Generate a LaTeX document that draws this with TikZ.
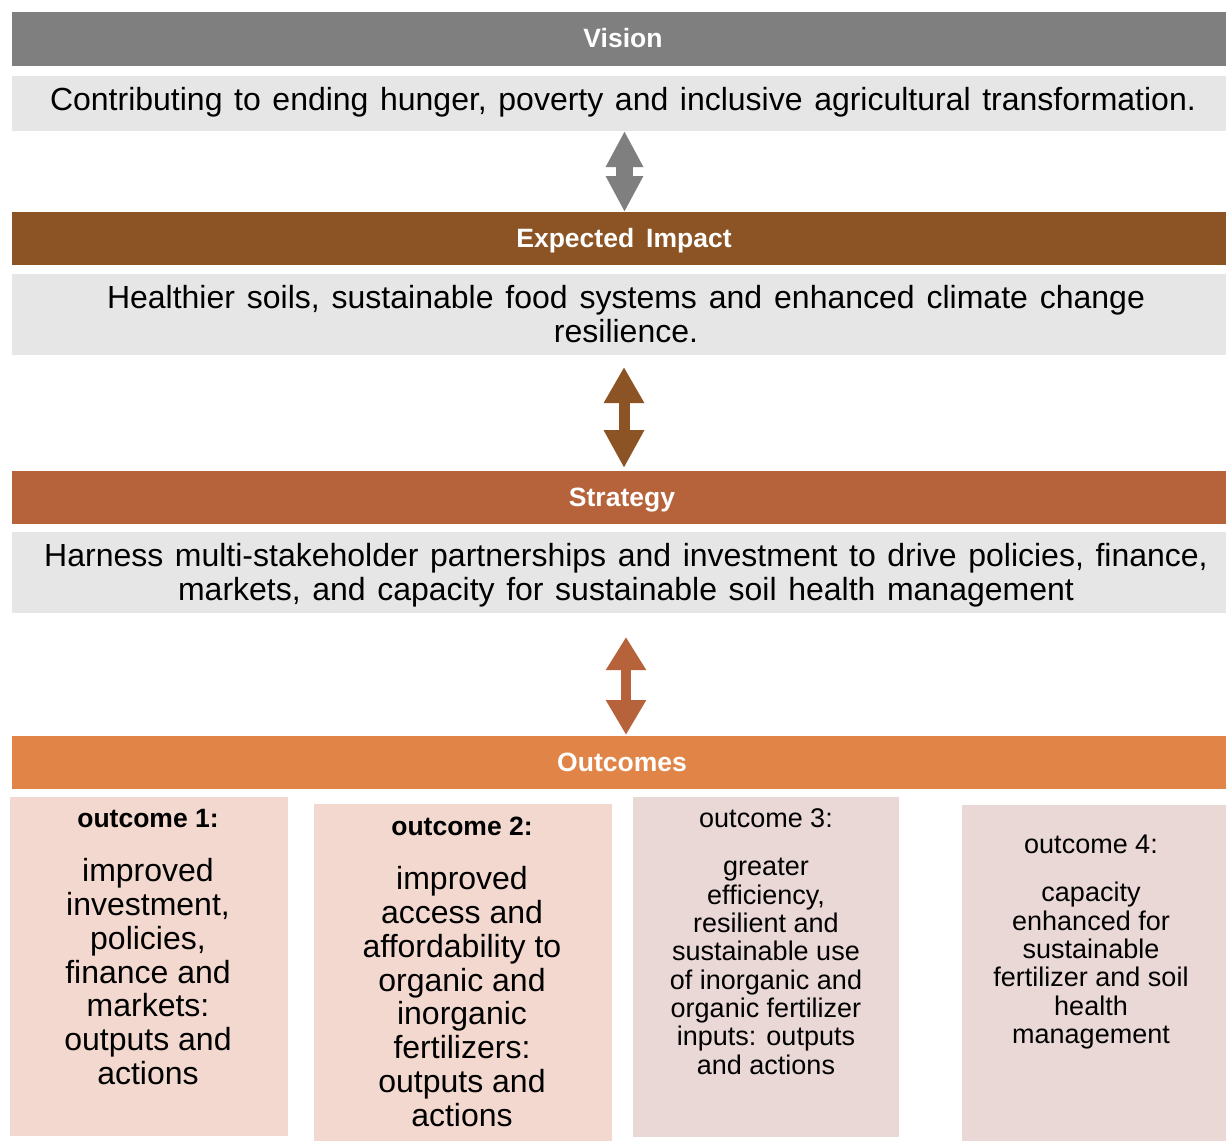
\documentclass[tikz,border=0pt]{standalone}
\usepackage{fontspec}
\setmainfont{Liberation Sans}
\usetikzlibrary{arrows.meta}
\definecolor{visgray}{RGB}{127,127,127}
\definecolor{lgray}{RGB}{231,230,230}
\definecolor{impbrown}{RGB}{140,84,36}
\definecolor{strbrown}{RGB}{182,98,58}
\definecolor{outorange}{RGB}{224,132,72}
\definecolor{pinka}{RGB}{242,216,206}
\definecolor{pinkb}{RGB}{234,216,214}
\newcommand\myspacetitle{\spaceskip 12pt\relax}
\newcommand\myspacemain{\spaceskip 11.6pt\relax}
\newcommand\myspaceimp{\spaceskip 11.9pt\relax}
\begin{document}
\begin{tikzpicture}[x=1pt,y=-1pt,
  box/.style={draw=none, inner sep=0, outer sep=0, anchor=north west, rectangle},
  titletext/.style={text=white, inner sep=0, anchor=base, font={\fontsize{26.5}{30}\selectfont\bfseries\myspacetitle}},
  maintext/.style={inner sep=0, align=center, anchor=north, font={\fontsize{32}{34}\selectfont\myspacemain}},
  onetext/.style={inner sep=0, anchor=base, font={\fontsize{32}{34}\selectfont\myspacemain}},
  otitle/.style={inner sep=0, anchor=base, font={\fontsize{26.5}{30}\selectfont\bfseries}},
  otitlereg/.style={inner sep=0, anchor=base, font={\fontsize{27}{30}\selectfont}},
  obodybig/.style={inner sep=0, align=center, anchor=north, font={\fontsize{32}{33.8}\selectfont}},
  obodysmall/.style={inner sep=0, align=center, anchor=north, font={\fontsize{27}{28.3}\selectfont}}
]
\fill[white] (0,0) rectangle (1226,1141);
\useasboundingbox (0,0) rectangle (1226,1141);

% bars and boxes
\node[box, fill=visgray, minimum width=1214pt, minimum height=54pt] (visbar) at (12,12) {};
\node[box, fill=lgray, minimum width=1214pt, minimum height=55pt] (visbox) at (12,76) {};
\node[box, fill=impbrown, minimum width=1214pt, minimum height=53pt] (impbar) at (12,212) {};
\node[box, fill=lgray, minimum width=1214pt, minimum height=81pt] (impbox) at (12,274) {};
\node[box, fill=strbrown, minimum width=1214pt, minimum height=53pt] (strbar) at (12,471) {};
\node[box, fill=lgray, minimum width=1214pt, minimum height=81pt] (strbox) at (12,532) {};
\node[box, fill=outorange, minimum width=1214pt, minimum height=53pt] (outbar) at (12,736) {};
\node[box, fill=pinka, minimum width=278pt, minimum height=339pt] (oa) at (10,797) {};
\node[box, fill=pinka, minimum width=298pt, minimum height=337pt] (ob) at (314,804) {};
\node[box, fill=pinkb, minimum width=266pt, minimum height=340pt] (oc) at (633,797) {};
\node[box, fill=pinkb, minimum width=264pt, minimum height=336pt] (od) at (962,805) {};

% titles
\node[titletext] (vistitle) at (623,47.5) {Vision};
\node[titletext] (imptitle) at (624,247.5) {Expected Impact};
\node[titletext] (strtitle) at (622,506.5) {Strategy};
\node[titletext] (outtitle) at (622,771.5) {Outcomes};

% main texts
\node[onetext] (vistext) at (623,110.5) {Contributing to ending hunger, poverty and inclusive agricultural transformation.};
\node[maintext, font={\fontsize{32}{33}\selectfont\myspaceimp}] (imptext) at (626,285.4) {\strut Healthier soils, sustainable food systems and enhanced climate change\\resilience.};
\node[maintext] (strtext) at (626,542.7) {\strut Harness multi-stakeholder partnerships and investment to drive policies, finance,\\markets, and capacity for sustainable soil health management};

% outcomes
\node[otitle] (oat) at (148,827.5) {outcome 1:};
\node[obodybig] (oab) at (148,857.8) {\strut improved\\investment,\\policies,\\finance and\\markets:\\outputs and\\actions};
\node[otitle] (obt) at (462,835.5) {outcome 2:};
\node[obodybig] (obb) at (462,865.8) {\strut improved\\access and\\affordability to\\organic and\\inorganic\\fertilizers:\\outputs and\\actions};
\node[otitlereg] (oct) at (766,827.7) {outcome 3:};
\node[obodysmall] (ocb) at (766,855.9) {\strut greater\\efficiency,\\resilient and\\sustainable use\\of inorganic and\\organic fertilizer\\inputs: outputs\\and actions};
\node[otitlereg] (odt) at (1091,853.7) {outcome 4:};
\node[obodysmall] (odb) at (1091,881.9) {\strut capacity\\enhanced for\\sustainable\\fertilizer and soil\\health\\management};

% arrows
\draw[line width=17pt, visgray, {Triangle[width=35pt,length=36pt]}-{Triangle[width=35pt,length=36pt]}]
  ([xshift=5.5pt]visbox.south) -- ([xshift=5.5pt]impbar.north);
\draw[line width=11pt, impbrown, shorten <=12pt, shorten >=3pt, {Triangle[width=38pt,length=36pt]}-{Triangle[width=38pt,length=38pt]}]
  ([xshift=5pt]impbox.south) -- ([xshift=5pt]strbar.north);
\draw[line width=10pt, strbrown, shorten <=24pt, shorten >=1pt, {Triangle[width=38pt,length=33pt]}-{Triangle[width=38pt,length=35pt]}]
  ([xshift=7pt]strbox.south) -- ([xshift=7pt]outbar.north);
\end{tikzpicture}
\end{document}
